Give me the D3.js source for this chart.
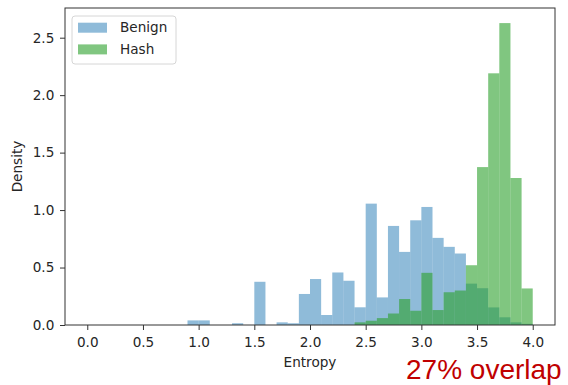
<!DOCTYPE html>
<html>
<head>
<meta charset="utf-8">
<script src="https://cdn.jsdelivr.net/npm/d3@7"></script>
<style>
  body { margin: 0; background: #fff; }
  svg { display: block; }
  .tick text { font-family: "DejaVu Sans", sans-serif; font-size: 13.6px; fill: #262626; }
</style>
</head>
<body>
<svg width="568" height="385"></svg>
<script>
// histogram bins (left edge of each 0.1-wide bin) and densities
var binWidth = 0.1;
var benignBins = [0.9, 1.0, 1.3, 1.5, 1.7, 1.8, 1.9, 2.0, 2.1, 2.2, 2.3, 2.4, 2.5, 2.6, 2.7, 2.8, 2.9, 3.0, 3.1, 3.2, 3.3, 3.4, 3.5, 3.6, 3.7, 3.8, 3.9];
var benignDensity = [0.04, 0.04, 0.015, 0.376, 0.023, 0.015, 0.27, 0.40, 0.087, 0.457, 0.385, 0.154, 1.056, 0.24, 0.862, 0.636, 0.911, 1.027, 0.758, 0.68, 0.622, 0.36, 0.32, 0.153, 0.067, 0.023, 0.01];
var hashBins = [2.4, 2.5, 2.6, 2.7, 2.8, 2.9, 3.0, 3.1, 3.2, 3.3, 3.4, 3.5, 3.6, 3.7, 3.8, 3.9];
var hashDensity = [0.023, 0.037, 0.06, 0.10, 0.226, 0.124, 0.454, 0.13, 0.285, 0.30, 0.52, 1.374, 2.19, 2.627, 1.279, 0.318];

var xTicks = [0, 0.5, 1, 1.5, 2, 2.5, 3, 3.5, 4];
var yTicks = [0, 0.5, 1, 1.5, 2, 2.5];
var seriesNames = ["Benign", "Hash"];
var seriesColors = ["#1f77b4", "#2ca02c"];

var margin = {left: 65, right: 13, top: 8, bottom: 60};
var width = 568, height = 385;

var svg = d3.select("svg");

var x = d3.scaleLinear()
    .domain([-0.2, 4.2])
    .range([margin.left, width - margin.right]);

var ymax = d3.max(hashDensity.concat(benignDensity)) * 1.05;
var y = d3.scaleLinear()
    .domain([0, ymax])
    .range([height - margin.bottom, margin.top]);

function drawHist(bins, vals, color, alpha) {
    svg.append("g")
        .selectAll("rect")
        .data(bins.map(function (b, i) { return {x0: b, v: vals[i]}; }))
        .enter().append("rect")
        .attr("x", function (d) { return x(d.x0); })
        .attr("width", function (d) { return x(d.x0 + binWidth) - x(d.x0); })
        .attr("y", function (d) { return y(d.v); })
        .attr("height", function (d) { return y(0) - y(d.v); })
        .attr("fill", color)
        .attr("fill-opacity", alpha);
}

drawHist(benignBins, benignDensity, seriesColors[0], 0.5);
drawHist(hashBins, hashDensity, seriesColors[1], 0.6);

// axes
var xAxis = svg.append("g")
    .attr("transform", "translate(0," + y(0) + ")")
    .call(d3.axisBottom(x).tickValues(xTicks).tickFormat(d3.format(".1f"))
        .tickSize(5).tickPadding(7).tickSizeOuter(0));
var yAxis = svg.append("g")
    .attr("transform", "translate(" + margin.left + ",0)")
    .call(d3.axisLeft(y).tickValues(yTicks).tickFormat(d3.format(".1f"))
        .tickSize(5).tickPadding(5.7).tickSizeOuter(0));
xAxis.select(".domain").remove();
yAxis.select(".domain").remove();
svg.selectAll(".tick line").attr("stroke", "#333");

// frame
svg.append("rect")
    .attr("x", margin.left)
    .attr("y", margin.top)
    .attr("width", width - margin.right - margin.left)
    .attr("height", height - margin.bottom - margin.top)
    .attr("fill", "none")
    .attr("stroke", "#333")
    .attr("stroke-width", 1);

svg.append("text")
    .attr("x", x(2))
    .attr("y", 367)
    .attr("text-anchor", "middle")
    .style("font-family", "DejaVu Sans, sans-serif")
    .style("font-size", "13.6px")
    .attr("fill", "#262626")
    .text("Entropy");

svg.append("text")
    .attr("transform", "translate(22," + ((margin.top + height - margin.bottom) / 2) + ") rotate(-90)")
    .attr("text-anchor", "middle")
    .style("font-family", "DejaVu Sans, sans-serif")
    .style("font-size", "13.6px")
    .attr("fill", "#262626")
    .text("Density");

// legend
var legend = svg.append("g").attr("transform", "translate(72,16)");
legend.append("rect")
    .attr("width", 104).attr("height", 48)
    .attr("rx", 3)
    .attr("fill", "#fff").attr("fill-opacity", 0.8)
    .attr("stroke", "#d6d6d6");
seriesNames.forEach(function (name, i) {
    legend.append("rect")
        .attr("x", 6).attr("y", 6.7 + i * 21.7)
        .attr("width", 29).attr("height", 10)
        .attr("fill", seriesColors[i])
        .attr("fill-opacity", i === 0 ? 0.5 : 0.6);
    legend.append("text")
        .attr("x", 48).attr("y", 11.7 + i * 21.7)
        .attr("dy", "0.35em")
        .style("font-family", "DejaVu Sans, sans-serif")
        .style("font-size", "13.6px")
        .attr("fill", "#262626")
        .text(name);
});

svg.append("text")
    .attr("x", 406)
    .attr("y", 379)
    .style("font-family", "Liberation Sans, Arial, sans-serif")
    .style("font-size", "28px")
    .attr("fill", "#c00000")
    .text("27% overlap");
</script>
</body>
</html>
